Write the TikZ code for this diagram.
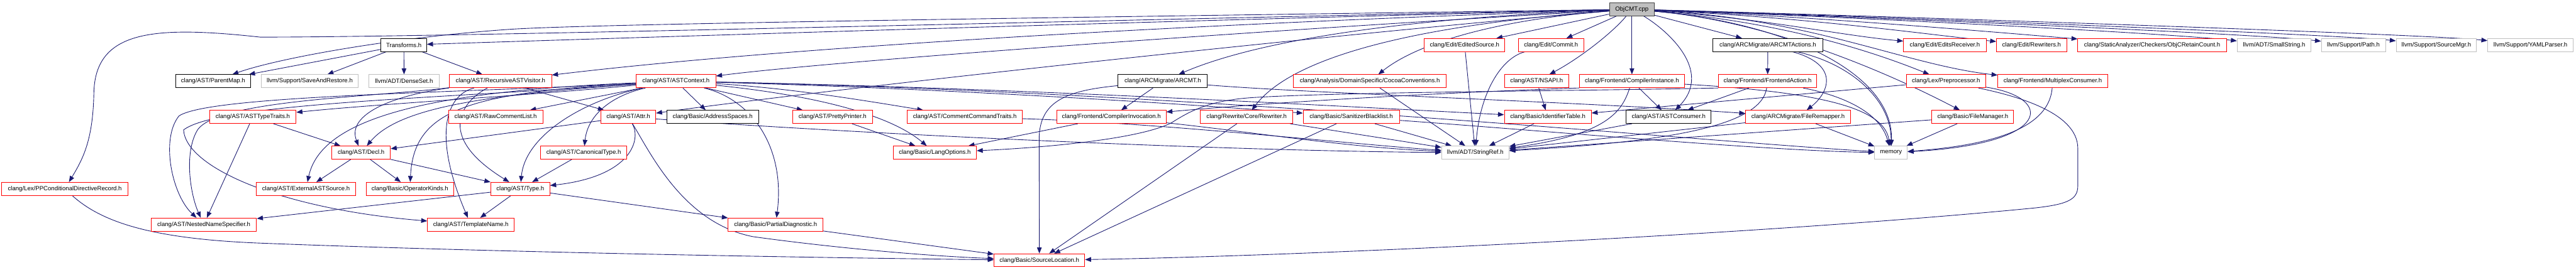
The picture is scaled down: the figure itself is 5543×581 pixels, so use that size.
\documentclass[tikz,border=0pt]{standalone}
\usepackage{fontspec}
\setmainfont{Liberation Sans}
\usetikzlibrary{arrows.meta}
\pgfdeclarelayer{bg}
\pgfsetlayers{bg,main}
\definecolor{edgec}{HTML}{191970}
\definecolor{graybd}{HTML}{BFBFBF}
\definecolor{rootfill}{HTML}{BFBFBF}
\definecolor{rootbd}{HTML}{404040}
\newcommand\gnode[6]{%
  \pgfmathsetmacro\gnx{(#3+#4)/2}%
  \pgfmathsetmacro\gnw{#4-#3}%
  \node[#1, minimum width=\gnw pt] (#2) at (\gnx,#5) {#6};}
\tikzset{
  gbox/.style={draw, fill=white, line width=1.3pt, minimum height=28pt, inner sep=0pt, anchor=center, text=black},
  redbox/.style={gbox, draw=red},
  blkbox/.style={gbox, draw=black},
  extbox/.style={gbox, draw=graybd},
  rootbox/.style={gbox, draw=rootbd, fill=rootfill},
  edge/.style={draw=edgec, line width=1.2pt, -{Triangle[length=13pt,width=10pt]}}
}
\begin{document}
\begin{tikzpicture}[x=1pt,y=-1pt,font=\fontsize{13}{15}\selectfont]
\useasboundingbox (0,0) rectangle (5543,581);
% row 0
\gnode{rootbox}{objcmt}{3463}{3560}{20}{ObjCMT.cpp}
% row 1
\gnode{blkbox}{transforms}{820}{918}{97}{Transforms.h}
\gnode{redbox}{editedsource}{3065}{3238}{97}{clang/Edit/EditedSource.h}
\gnode{redbox}{commit}{3267}{3408}{97}{clang/Edit/Commit.h}
\gnode{blkbox}{arcmtactions}{3686}{3922}{97}{clang/ARCMigrate/ARCMTActions.h}
\gnode{redbox}{editsreceiver}{4096}{4274}{97}{clang/Edit/EditsReceiver.h}
\gnode{redbox}{rewriters}{4296}{4447}{97}{clang/Edit/Rewriters.h}
\gnode{redbox}{retaincount}{4471}{4791}{97}{clang/StaticAnalyzer/Checkers/ObjCRetainCount.h}
\gnode{extbox}{smallstring}{4814}{4973}{97}{llvm/ADT/SmallString.h}
\gnode{extbox}{path}{4995}{5133}{97}{llvm/Support/Path.h}
\gnode{extbox}{sourcemgr}{5156}{5329}{97}{llvm/Support/SourceMgr.h}
\gnode{extbox}{yaml}{5353}{5537}{97}{llvm/Support/YAMLParser.h}
% row 2
\gnode{blkbox}{parentmap}{378}{539}{175}{clang/AST/ParentMap.h}
\gnode{extbox}{saverestore}{562}{771}{175}{llvm/Support/SaveAndRestore.h}
\gnode{extbox}{denseset}{794}{945}{175}{llvm/ADT/DenseSet.h}
\gnode{redbox}{rav}{967}{1187}{175}{clang/AST/RecursiveASTVisitor.h}
\gnode{redbox}{astcontext}{1369}{1540}{175}{clang/AST/ASTContext.h}
\gnode{blkbox}{arcmt}{2406}{2598}{175}{clang/ARCMigrate/ARCMT.h}
\gnode{redbox}{cocoa}{2783}{3112}{175}{clang/Analysis/DomainSpecific/CocoaConventions.h}
\gnode{redbox}{nsapi}{3237}{3376}{175}{clang/AST/NSAPI.h}
\gnode{redbox}{compinst}{3399}{3624}{175}{clang/Frontend/CompilerInstance.h}
\gnode{redbox}{frontendaction}{3698}{3909}{175}{clang/Frontend/FrontendAction.h}
\gnode{redbox}{preprocessor}{4102}{4273}{175}{clang/Lex/Preprocessor.h}
\gnode{redbox}{multiplex}{4299}{4535}{175}{clang/Frontend/MultiplexConsumer.h}
% row 3
\gnode{redbox}{asttypetraits}{451}{637}{252}{clang/AST/ASTTypeTraits.h}
\gnode{redbox}{rawcomment}{965}{1168}{252}{clang/AST/RawCommentList.h}
\gnode{redbox}{attr}{1293}{1411}{252}{clang/AST/Attr.h}
\gnode{blkbox}{addrspaces}{1435}{1632}{252}{clang/Basic/AddressSpaces.h}
\gnode{redbox}{prettyprinter}{1706}{1877}{252}{clang/AST/PrettyPrinter.h}
\gnode{redbox}{commentcmd}{1952}{2200}{252}{clang/AST/CommentCommandTraits.h}
\gnode{redbox}{compinv}{2274}{2509}{252}{clang/Frontend/CompilerInvocation.h}
\gnode{redbox}{rewriter}{2583}{2782}{252}{clang/Rewrite/Core/Rewriter.h}
\gnode{redbox}{sanitizer}{2804}{3011}{252}{clang/Basic/SanitizerBlacklist.h}
\gnode{redbox}{identtable}{3237}{3424}{252}{clang/Basic/IdentifierTable.h}
\gnode{blkbox}{astconsumer}{3499}{3682}{252}{clang/AST/ASTConsumer.h}
\gnode{redbox}{fileremapper}{3756}{3982}{252}{clang/ARCMigrate/FileRemapper.h}
\gnode{redbox}{filemanager}{4157}{4333}{252}{clang/Basic/FileManager.h}
% row 4
\gnode{redbox}{decl}{714}{840}{329}{clang/AST/Decl.h}
\gnode{redbox}{canonical}{1163}{1349}{329}{clang/AST/CanonicalType.h}
\gnode{redbox}{langopts}{1922}{2101}{329}{clang/Basic/LangOptions.h}
\gnode{extbox}{stringref}{3102}{3247}{329}{llvm/ADT/StringRef.h}
\gnode{extbox}{memory}{4034}{4104}{329}{memory}
% row 5
\gnode{redbox}{ppcond}{4}{275}{407}{clang/Lex/PPConditionalDirectiveRecord.h}
\gnode{redbox}{external}{552}{765}{407}{clang/AST/ExternalASTSource.h}
\gnode{redbox}{opkinds}{788}{976}{407}{clang/Basic/OperatorKinds.h}
\gnode{redbox}{type}{1056}{1183}{407}{clang/AST/Type.h}
% row 6
\gnode{redbox}{nns}{325}{552}{484}{clang/AST/NestedNameSpecifier.h}
\gnode{redbox}{templatename}{920}{1106}{484}{clang/AST/TemplateName.h}
\gnode{redbox}{partialdiag}{1567}{1771}{484}{clang/Basic/PartialDiagnostic.h}
% row 7
\gnode{redbox}{sourceloc}{2139}{2334}{561}{clang/Basic/SourceLocation.h}

\begin{pgfonlayer}{bg}
% ObjCMT.cpp
\draw[edge] (objcmt) .. controls (2500,40) and (1000,80) .. (560,80) .. controls (330,55) and (205,65) .. (202,200) .. controls (200,300) and (180,340) .. (ppcond);
\draw[edge] (objcmt) .. controls (2500,35) and (1300,50) .. (1100,63) .. controls (850,80) and (600,125) .. (parentmap);
\draw[edge] (objcmt) .. controls (2500,45) and (1400,80) .. (transforms);
\draw[edge] (objcmt) .. controls (2600,50) and (1700,100) .. (rav);
\draw[edge] (objcmt) .. controls (2800,60) and (1800,130) .. (astcontext);
\draw[edge] (objcmt) .. controls (2900,70) and (1800,190) .. (attr);
\draw[edge] (objcmt) .. controls (3000,40) and (2700,90) .. (arcmt);
\draw[edge] (objcmt) .. controls (3100,50) and (2790,110) .. (rewriter);
\draw[edge] (objcmt) .. controls (3250,40) and (3060,85) .. (cocoa);
\draw[edge] (objcmt) -- (editedsource);
\draw[edge] (objcmt) -- (commit);
\draw[edge] (objcmt) .. controls (3470,70) and (3400,125) .. (nsapi);
\draw[edge] (objcmt) -- (compinst);
\draw[edge] (objcmt) .. controls (3580,60) and (3690,150) .. (astconsumer);
\draw[edge] (objcmt) -- (arcmtactions);
\draw[edge] (objcmt) .. controls (3800,40) and (3950,75) .. (editsreceiver);
\draw[edge] (objcmt) .. controls (3900,38) and (4150,75) .. (rewriters);
\draw[edge] (objcmt) .. controls (3800,45) and (3990,95) .. (preprocessor);
\draw[edge] (objcmt) .. controls (3900,40) and (4100,140) .. (multiplex);
\draw[edge] (objcmt) .. controls (3800,45) and (4050,150) .. (filemanager);
\draw[edge] (objcmt) .. controls (3850,50) and (4075,160) .. (memory);
\draw[edge] (objcmt) .. controls (3900,35) and (4300,70) .. (retaincount);
\draw[edge] (objcmt) .. controls (3900,33) and (4650,70) .. (smallstring);
\draw[edge] (objcmt) .. controls (3900,32) and (4850,72) .. (path);
\draw[edge] (objcmt) .. controls (3900,31) and (5000,72) .. (sourcemgr);
\draw[edge] (objcmt) .. controls (3900,30) and (5200,72) .. (yaml);
% Transforms.h
\draw[edge] (transforms) -- (parentmap);
\draw[edge] (transforms) -- (saverestore);
\draw[edge] (transforms) -- (denseset);
\draw[edge] (transforms) -- (rav);
% RecursiveASTVisitor.h
\draw[edge] (rav) -- (attr);
\draw[edge] (rav) .. controls (850,205) and (745,245) .. (decl);
\draw[edge] (rav) .. controls (800,210) and (470,215) .. (425,280) .. controls (395,330) and (410,420) .. (nns);
\draw[edge] (rav) .. controls (960,205) and (930,290) .. (templatename);
\draw[edge] (rav) .. controls (1000,215) and (930,290) .. (type);
% ASTContext.h
\draw[edge] (astcontext) .. controls (1150,205) and (800,225) .. (asttypetraits);
\draw[edge] (astcontext) .. controls (1050,205) and (860,230) .. (decl);
\draw[edge] (astcontext) .. controls (900,198) and (690,260) .. (external);
\draw[edge] (astcontext) .. controls (1000,200) and (890,240) .. (opkinds);
\draw[edge] (astcontext) .. controls (1000,200) and (450,205) .. (385,250) .. controls (345,300) and (370,420) .. (nns);
\draw[edge] (astcontext) .. controls (950,212) and (470,222) .. (395,280) .. controls (400,360) and (600,450) .. (templatename);
\draw[edge] (astcontext) .. controls (1260,215) and (1130,290) .. (type);
\draw[edge] (astcontext) .. controls (1320,205) and (1265,245) .. (canonical);
\draw[edge] (astcontext) -- (rawcomment);
\draw[edge] (astcontext) -- (addrspaces);
\draw[edge] (astcontext) -- (prettyprinter);
\draw[edge] (astcontext) .. controls (1700,190) and (1850,215) .. (commentcmd);
\draw[edge] (astcontext) .. controls (1700,200) and (1900,235) .. (langopts);
\draw[edge] (astcontext) .. controls (1620,215) and (1690,320) .. (partialdiag);
\draw[edge] (astcontext) .. controls (2000,190) and (2500,220) .. (sanitizer);
\draw[edge] (astcontext) .. controls (2200,190) and (2900,230) .. (identtable);
\draw[edge] (astcontext) .. controls (2600,200) and (3600,300) .. (memory);
% Attr.h
\draw[edge] (attr) -- (decl);
\draw[edge] (attr) .. controls (1380,300) and (1360,380) .. (type);
\draw[edge] (attr) .. controls (1400,330) and (1470,480) .. (1620,510) .. controls (1800,535) and (2000,552) .. (sourceloc);
\draw[edge] (attr) .. controls (1800,285) and (2600,325) .. (stringref);
% ASTTypeTraits.h, Decl.h, Type.h, CanonicalType.h
\draw[edge] (asttypetraits) -- (decl);
\draw[edge] (asttypetraits) -- (nns);
\draw[edge] (decl) -- (external);
\draw[edge] (decl) -- (opkinds);
\draw[edge] (decl) -- (type);
\draw[edge] (type) -- (nns);
\draw[edge] (type) -- (templatename);
\draw[edge] (type) -- (partialdiag);
\draw[edge] (canonical) -- (type);
% others
\draw[edge] (ppcond) .. controls (220,480) and (330,515) .. (560,524) .. controls (1100,545) and (1800,556) .. (sourceloc);
\draw[edge] (partialdiag) -- (sourceloc);
\draw[edge] (prettyprinter) -- (langopts);
\draw[edge] (commentcmd) .. controls (2500,265) and (2900,310) .. (stringref);
% ARCMT.h
\draw[edge] (arcmt) -- (compinv);
\draw[edge] (arcmt) .. controls (2300,195) and (2236,215) .. (2236,300) -- (sourceloc);
\draw[edge] (arcmt) .. controls (2800,200) and (3400,220) .. (fileremapper);
% CompilerInvocation.h, Rewriter.h, SanitizerBlacklist.h
\draw[edge] (compinv) -- (langopts);
\draw[edge] (compinv) .. controls (2700,285) and (2900,318) .. (stringref);
\draw[edge] (rewriter) -- (sourceloc);
\draw[edge] (rewriter) -- (stringref);
\draw[edge] (sanitizer) -- (sourceloc);
\draw[edge] (sanitizer) -- (stringref);
\draw[edge] (sanitizer) .. controls (3300,280) and (3800,325) .. (memory);
% Cocoa, EditedSource, Commit, NSAPI, IdentifierTable
\draw[edge] (cocoa) -- (stringref);
\draw[edge] (editedsource) -- (stringref);
\draw[edge] (commit) .. controls (3230,125) and (3185,200) .. (stringref);
\draw[edge] (nsapi) -- (identtable);
\draw[edge] (identtable) -- (stringref);
% CompilerInstance.h
\draw[edge] (compinst) -- (astconsumer);
\draw[edge] (compinst.south west) .. controls (3200,196) and (2800,215) .. (compinv);
\draw[edge] (compinst) .. controls (3490,240) and (3460,290) .. (stringref);
\draw[edge] (compinst) .. controls (3950,200) and (4055,240) .. (memory);
\draw[edge] (astconsumer) -- (stringref);
% ARCMTActions.h
\draw[edge] (arcmtactions) -- (frontendaction);
\draw[edge] (arcmtactions) .. controls (3960,140) and (3935,200) .. (fileremapper);
\draw[edge] (arcmtactions) .. controls (3990,140) and (4070,220) .. (memory);
% FrontendAction.h
\draw[edge] (frontendaction) -- (astconsumer);
\draw[edge] (frontendaction) .. controls (3790,270) and (3600,305) .. (stringref);
\draw[edge] (frontendaction.south west) .. controls (3400,196) and (2900,198) .. (2700,210) .. controls (2600,216) and (2560,240) .. (2520,265) .. controls (2450,300) and (2250,318) .. (langopts);
\draw[edge] (frontendaction) .. controls (3960,205) and (4045,240) .. (memory);
% FileRemapper.h, FileManager.h
\draw[edge] (fileremapper) -- (stringref);
\draw[edge] (fileremapper) -- (memory);
\draw[edge] (filemanager) -- (stringref);
\draw[edge] (filemanager) -- (memory);
% Preprocessor.h, MultiplexConsumer.h
\draw[edge] (preprocessor) -- (identtable);
\draw[edge] (preprocessor) .. controls (4330,205) and (4471,240) .. (4471,320) -- (4471,400) .. controls (4471,430) and (4450,440) .. (4380,448) .. controls (3800,505) and (2800,552) .. (sourceloc);
\draw[edge] (preprocessor) .. controls (4420,210) and (4420,310) .. (memory);
\draw[edge] (multiplex) .. controls (4410,260) and (4330,310) .. (memory);
\end{pgfonlayer}
\end{tikzpicture}
\end{document}
